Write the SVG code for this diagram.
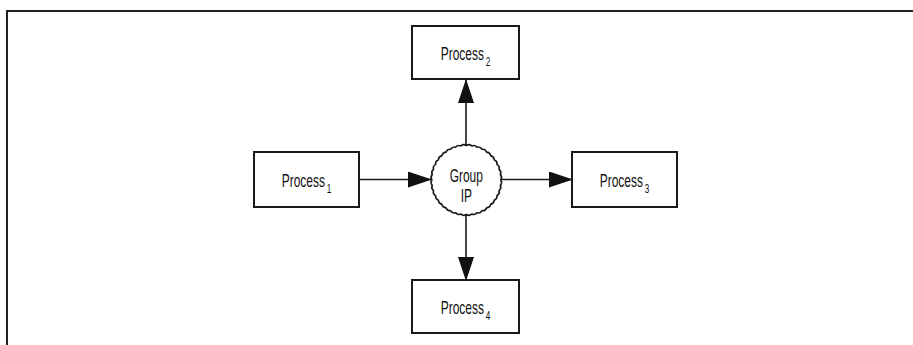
<svg xmlns="http://www.w3.org/2000/svg" width="913" height="345" viewBox="0 0 913 345">
  <style>
    .box { fill: #ffffff; stroke: #1a1a1a; stroke-width: 2; }
    .lbl { font-family: "Liberation Sans", Arial, sans-serif; font-size: 19px; fill: #111111; text-anchor: middle; }
    .sub { font-size: 13px; }
    .conn { stroke: #1a1a1a; stroke-width: 1.6; fill: none; }
    .frame { stroke: #222222; stroke-width: 2; fill: none; }
  </style>
  <defs>
    <marker id="ah" markerUnits="userSpaceOnUse" markerWidth="24" markerHeight="16" refX="23" refY="8" orient="auto">
      <path d="M0,0 L24,8 L0,16 z" fill="#111111"/>
    </marker>
  </defs>
  <rect width="913" height="345" fill="#ffffff"/>
  <path class="frame" d="M7,345 L7,11 L913,11"/>

  <g id="connectors">
    <line class="conn" x1="359" y1="179.5" x2="431" y2="179.5" marker-end="url(#ah)"/>
    <line class="conn" x1="501" y1="179.5" x2="572" y2="179.5" marker-end="url(#ah)"/>
    <line class="conn" x1="466" y1="145" x2="466" y2="80" marker-end="url(#ah)"/>
    <line class="conn" x1="466" y1="215" x2="466" y2="280" marker-end="url(#ah)"/>
  </g>

  <g id="process1">
    <rect class="box" x="254" y="152" width="105" height="55"/>
    <text class="lbl" transform="translate(306.5,186.5) scale(0.63,1)">Process<tspan class="sub" dx="3" dy="6">1</tspan></text>
  </g>
  <g id="process2">
    <rect class="box" x="412" y="26" width="107" height="53"/>
    <text class="lbl" transform="translate(465.5,59.5) scale(0.63,1)">Process<tspan class="sub" dx="3" dy="6">2</tspan></text>
  </g>
  <g id="process3">
    <rect class="box" x="572" y="152" width="105" height="55"/>
    <text class="lbl" transform="translate(624.5,186.5) scale(0.63,1)">Process<tspan class="sub" dx="3" dy="6">3</tspan></text>
  </g>
  <g id="process4">
    <rect class="box" x="412" y="280" width="107" height="53"/>
    <text class="lbl" transform="translate(465.5,313.5) scale(0.63,1)">Process<tspan class="sub" dx="3" dy="6">4</tspan></text>
  </g>

  <g id="group-ip">
    <path fill="#ffffff" stroke="#1a1a1a" stroke-width="1.6" d="M500.8,180 A4.5,4.5 0 0 1 500.375,185.397 A4.5,4.5 0 0 1 499.112,190.661 A4.5,4.5 0 0 1 497.04,195.663 A4.5,4.5 0 0 1 494.211,200.279 A4.5,4.5 0 0 1 490.695,204.395 A4.5,4.5 0 0 1 486.579,207.911 A4.5,4.5 0 0 1 481.963,210.74 A4.5,4.5 0 0 1 476.961,212.812 A4.5,4.5 0 0 1 471.697,214.075 A4.5,4.5 0 0 1 466.3,214.5 A4.5,4.5 0 0 1 460.903,214.075 A4.5,4.5 0 0 1 455.639,212.812 A4.5,4.5 0 0 1 450.637,210.74 A4.5,4.5 0 0 1 446.021,207.911 A4.5,4.5 0 0 1 441.905,204.395 A4.5,4.5 0 0 1 438.389,200.279 A4.5,4.5 0 0 1 435.56,195.663 A4.5,4.5 0 0 1 433.488,190.661 A4.5,4.5 0 0 1 432.225,185.397 A4.5,4.5 0 0 1 431.8,180 A4.5,4.5 0 0 1 432.225,174.603 A4.5,4.5 0 0 1 433.488,169.339 A4.5,4.5 0 0 1 435.56,164.337 A4.5,4.5 0 0 1 438.389,159.721 A4.5,4.5 0 0 1 441.905,155.605 A4.5,4.5 0 0 1 446.021,152.089 A4.5,4.5 0 0 1 450.637,149.26 A4.5,4.5 0 0 1 455.639,147.188 A4.5,4.5 0 0 1 460.903,145.925 A4.5,4.5 0 0 1 466.3,145.5 A4.5,4.5 0 0 1 471.697,145.925 A4.5,4.5 0 0 1 476.961,147.188 A4.5,4.5 0 0 1 481.963,149.26 A4.5,4.5 0 0 1 486.579,152.089 A4.5,4.5 0 0 1 490.695,155.605 A4.5,4.5 0 0 1 494.211,159.721 A4.5,4.5 0 0 1 497.04,164.337 A4.5,4.5 0 0 1 499.112,169.339 A4.5,4.5 0 0 1 500.375,174.603 A4.5,4.5 0 0 1 500.8,180 Z"/>
    <text class="lbl" transform="translate(466.3,182) scale(0.63,1)">Group</text>
    <text class="lbl" transform="translate(466.3,202) scale(0.63,1)">IP</text>
  </g>
</svg>
